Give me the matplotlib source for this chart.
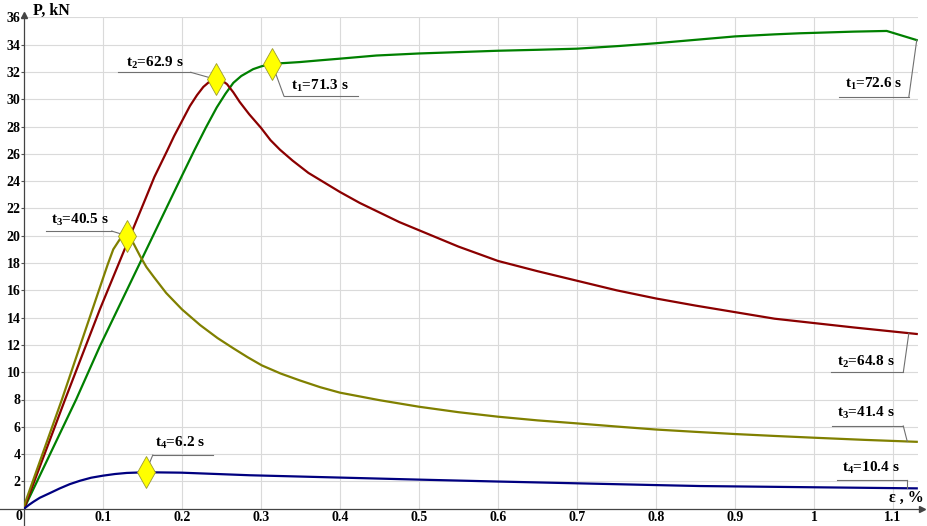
import numpy as np
import matplotlib
matplotlib.use("Agg")
import matplotlib.pyplot as plt

plt.rcParams["font.family"] = ["Liberation Serif", "DejaVu Serif"]
plt.rcParams["font.weight"] = "bold"
plt.rcParams["mathtext.default"] = "regular"

# Load P (kN) vs strain eps (%) for four specimens
eps_1 = [0, 0.066, 0.096, 0.185, 0.2, 0.216, 0.23, 0.244, 0.255, 0.265, 0.275, 0.29,
         0.3, 0.314, 0.33, 0.349, 0.375, 0.4, 0.446, 0.5, 0.55, 0.6, 0.65, 0.7, 0.754,
         0.8, 0.85, 0.9, 0.95, 0.982, 1.0, 1.05, 1.092, 1.13]
load_1 = [0, 8.0, 11.9, 22.6, 24.4, 26.3, 27.9, 29.4, 30.4, 31.2, 31.7, 32.2,
          32.4, 32.6, 32.65, 32.72, 32.85, 32.97, 33.2, 33.35, 33.45, 33.55, 33.62, 33.7, 33.9,
          34.1, 34.35, 34.6, 34.75, 34.83, 34.86, 34.95, 35.0, 34.33]

eps_2 = [0, 0.052, 0.096, 0.153, 0.165, 0.181, 0.19, 0.2, 0.21, 0.219, 0.227, 0.235,
         0.243, 0.25, 0.257, 0.265, 0.273, 0.285, 0.3, 0.312, 0.324, 0.34, 0.36, 0.38,
         0.4, 0.425, 0.45, 0.475, 0.5, 0.55, 0.6, 0.65, 0.7, 0.75, 0.8, 0.85, 0.9, 0.95,
         1.0, 1.05, 1.1, 1.13]
load_2 = [0, 8.0, 14.6, 22.6, 24.3, 26.2, 27.3, 28.4, 29.5, 30.3, 30.9, 31.3,
          31.45, 31.4, 31.1, 30.5, 29.8, 28.9, 27.9, 27.0, 26.3, 25.5, 24.6, 23.9,
          23.2, 22.4, 21.7, 21.0, 20.4, 19.2, 18.15, 17.4, 16.7, 16.0, 15.4, 14.88, 14.4, 13.92,
          13.6, 13.28, 12.98, 12.8]

eps_3 = [0, 0.048, 0.096, 0.106, 0.113, 0.122, 0.13, 0.138, 0.147, 0.155, 0.164, 0.18,
         0.2, 0.223, 0.245, 0.265, 0.283, 0.301, 0.325, 0.349, 0.375, 0.4, 0.45, 0.5,
         0.55, 0.6, 0.65, 0.7, 0.75, 0.8, 0.85, 0.9, 0.95, 1.0, 1.065, 1.13]
load_3 = [0.2, 8.0, 16.2, 17.9, 19.0, 19.8, 20.0, 19.5, 18.5, 17.7, 17.0, 15.8,
          14.6, 13.45, 12.5, 11.75, 11.1, 10.5, 9.9, 9.4, 8.9, 8.5, 7.95, 7.47,
          7.07, 6.74, 6.47, 6.25, 6.02, 5.8, 5.63, 5.47, 5.33, 5.2, 5.04, 4.9]

eps_4 = [0, 0.006, 0.012, 0.02, 0.033, 0.045, 0.058, 0.071, 0.085, 0.1, 0.115, 0.13,
         0.154, 0.199, 0.286, 0.4, 0.5, 0.6, 0.7, 0.8, 0.856, 1.0, 1.13]
load_4 = [0, 0.27, 0.51, 0.8, 1.15, 1.48, 1.8, 2.05, 2.27, 2.42, 2.54, 2.62,
          2.67, 2.64, 2.45, 2.28, 2.13, 1.99, 1.86, 1.73, 1.66, 1.57, 1.49]

colors = ["#008000", "#8b0000", "#808000", "#000080"]

# strain where the peak marker sits and the time stamps shown there
peak_eps = [0.314, 0.243, 0.130, 0.154]
peak_time = ["71.3", "62.9", "40.5", "6.2"]
# strain at the end of each record and the time stamps there
end_eps = [1.13, 1.12, 1.118, 1.118]
end_time = ["72.6", "64.8", "41.4", "10.4"]

yticks = list(range(2, 37, 2))
xticks = [0.1, 0.2, 0.3, 0.4, 0.5, 0.6, 0.7, 0.8, 0.9, 1.0, 1.1]
xtick_labels = ["0.1", "0.2", "0.3", "0.4", "0.5", "0.6", "0.7", "0.8", "0.9", "1", "1.1"]

curves = [(eps_1, load_1), (eps_2, load_2), (eps_3, load_3), (eps_4, load_4)]

fig = plt.figure(figsize=(9.27, 5.26), dpi=100)
ax = fig.add_axes([24 / 927, 17.3 / 526, 894 / 927, 491.4 / 526])
ax.set_xlim(0, 1.1316)
ax.set_ylim(0, 36)

ax.set_xticks(xticks)
ax.set_xticklabels(xtick_labels)
ax.set_yticks(yticks)
ax.tick_params(axis="x", length=0, pad=1.5, labelsize=10)
ax.tick_params(axis="y", length=2, width=0.8, color="#555555", pad=0.5, labelsize=10)
ax.grid(True, color="#dadada", linewidth=0.8)
ax.set_axisbelow(True)
for side in ["top", "right", "left", "bottom"]:
    ax.spines[side].set_visible(False)

# axes with arrows, crossing a little past the origin
ax.plot([-24 / 894, 1.005], [0, 0], color="#444444", lw=0.9, transform=ax.transAxes, clip_on=False)
ax.plot([0, 0], [-17 / 491.4, 1.005], color="#444444", lw=0.9, transform=ax.transAxes, clip_on=False)
ax.plot(1.005, 0, marker=">", ms=5, color="#444444", transform=ax.transAxes, clip_on=False)
ax.plot(0, 1.005, marker="^", ms=5, color="#444444", transform=ax.transAxes, clip_on=False)

ax.text(-0.006, -0.55, "0", ha="center", va="center", fontsize=10, clip_on=False)
ax.text(0.0114, 36.17, "P, kN", ha="left", va="baseline", fontsize=11.5, clip_on=False)
ax.text(1.139, 0.51, "ε , %", ha="right", va="baseline", fontsize=11.5)

for (x, y), c in zip(curves, colors):
    ax.plot(x, y, color=c, lw=1.6, zorder=3)

# label layout: text x, text y, underline x0, x1, underline y, leader side
peak_layout = [
    (0.375, 30.70, 0.329, 0.423, 30.23, "left"),
    (0.166, 32.36, 0.119, 0.211, 31.97, "right"),
    (0.071, 20.86, 0.028, 0.111, 20.34, "right"),
    (0.198, 4.50, 0.163, 0.239, 3.93, "left"),
]
end_layout = [
    (1.075, 30.80, 1.032, 1.120, 30.16, "right"),
    (1.065, 10.48, 1.021, 1.113, 9.99, "right"),
    (1.066, 6.74, 1.023, 1.113, 6.06, "right"),
    (1.072, 2.71, 1.029, 1.118, 2.08, "right"),
]


def callout(i, px, time, layout, marker):
    tx, ty, ux0, ux1, uy, side = layout
    x, y = curves[i]
    py = np.interp(px, x, y)
    lx = ux0 if side == "left" else ux1
    ax.plot([ux0, ux1], [uy, uy], color="#707070", lw=0.8, zorder=4)
    ax.plot([lx, px], [uy, py], color="#707070", lw=0.8, zorder=4)
    ax.text(tx, ty, r"t$_{%d}$=%s s" % (i + 1, time), ha="center", va="baseline",
            fontsize=11, zorder=6)
    if marker:
        ax.plot(px, py, marker="d", ms=16, mfc="#ffff00", mec="#9a9a30", mew=0.6, zorder=5)


for i in range(4):
    callout(i, peak_eps[i], peak_time[i], peak_layout[i], True)
    callout(i, end_eps[i], end_time[i], end_layout[i], False)

fig.savefig("out.png", dpi=100)
